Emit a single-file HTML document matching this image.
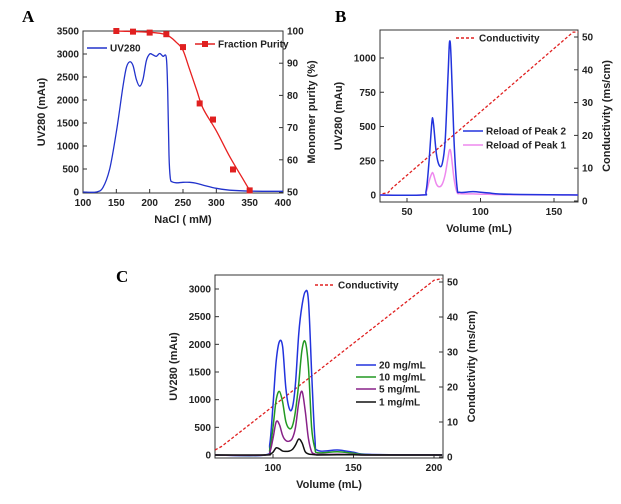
<!DOCTYPE html>
<html><head><meta charset="utf-8"><style>
html,body{margin:0;padding:0;background:#fff;width:621px;height:504px;overflow:hidden}
svg{display:block;font-family:"Liberation Sans",Arial,sans-serif}
.t{font-size:10px;font-weight:bold;fill:#222}
.at{font-size:11px;font-weight:bold;fill:#222}
.pl{font-family:"Liberation Serif",serif;font-size:17px;font-weight:bold}
</style></head><body>
<svg id="s" width="621" height="504" viewBox="0 0 621 504">
<defs>
<clipPath id="clipa"><rect x="83" y="28" width="200" height="165"/></clipPath>
<clipPath id="clipb"><rect x="380" y="30" width="198" height="172"/></clipPath>
<clipPath id="clipc"><rect x="215" y="275" width="228" height="183"/></clipPath>
</defs>
<text class="pl" x="22" y="22">A</text>
<text class="pl" x="335" y="22">B</text>
<text class="pl" x="116" y="282">C</text>
</svg>
<script>
// Panel A data
const aUvX=[100,120,130,140,150,160,165,170,175,180,185,190,195,200,205,210,215,220,225,227,229,231,234,240,250,260,270,280,300,320,350,400];
const aUvY=[0,0,100,500,1300,2300,2700,2830,2750,2450,2300,2450,2850,3000,2980,2950,3010,2950,2920,2200,800,300,220,200,210,210,190,150,80,40,20,15];
const aPurX=[150,175,200,225,250,275,295,325,350];
const aPurY=[100,99.8,99.5,99,95,77.5,72.5,57,50.5];
const aFitX=[150,200,225,240,250,260,270,280,300,320,340,350];
const aFitY=[100,99.6,98.8,96.5,94,88,82,76,69,61,54,50.5];
const aXTicks=[100,150,200,250,300,350,400];
const aYTicks=[0,500,1000,1500,2000,2500,3000,3500];
const aY2Ticks=[50,60,70,80,90,100];
// Panel B data
const bX=[30,60,63,65,67,68,70,72,74,76,78,79,80,82,84,86,95,105,120,168];
const bPeak2=[0,0,30,250,540,520,300,215,230,400,900,1120,1000,400,60,20,25,15,5,0];
const bPeak1=[0,0,20,100,160,150,80,60,80,150,280,330,300,120,20,10,8,5,2,0];
const bCondX=[30,37,40,163,168];
const bCondY=[2,2.5,4,51.5,51.5];
const bXTicks=[50,100,150];
const bYTicks=[0,250,500,750,1000];
const bY2Ticks=[0,10,20,30,40,50];
// Panel C data
const cX=[64,95,98,100,102,104,106,108,110,112,114,116,118,120,122,124,126,128,140,150,160,205];
const c20=[0,0,200,900,1700,2050,1950,1200,850,850,1300,2200,2700,2950,2800,1500,300,80,90,50,10,0];
const c10=[0,0,100,500,1000,1150,950,600,480,520,800,1300,1900,2050,1600,500,120,40,60,30,5,0];
const c5=[0,0,50,300,600,550,350,260,250,300,500,950,1150,800,300,60,20,10,15,10,0,0];
const c1=[0,0,10,50,130,110,70,65,70,100,180,290,220,60,20,10,5,0,5,3,0,0];
const cCondX=[64,68,200,205];
const cCondY=[2,3,50.5,51];
const cXTicks=[100,150,200];
const cYTicks=[0,500,1000,1500,2000,2500,3000];
const cY2Ticks=[0,10,20,30,40,50];

const NS='http://www.w3.org/2000/svg', S=document.getElementById('s');
function mk(tag,at,txt){const e=document.createElementNS(NS,tag);for(const k in at)e.setAttribute(k,at[k]);if(txt!==undefined)e.textContent=txt;S.appendChild(e);return e;}
function lin(d0,d1,p0,p1){return v=>p0+(v-d0)*(p1-p0)/(d1-d0);}
function pathD(xs,ys,fx,fy,sm){const P=xs.map((x,i)=>[fx(x),fy(ys[i])]);let d='M'+P[0][0].toFixed(1)+','+P[0][1].toFixed(1);
  for(let i=0;i<P.length-1;i++){const p0=P[Math.max(0,i-1)],p1=P[i],p2=P[i+1],p3=P[Math.min(P.length-1,i+2)];
    if(!sm){d+=' L'+p2[0].toFixed(1)+','+p2[1].toFixed(1);continue;}
    const c1=[p1[0]+(p2[0]-p0[0])/6,p1[1]+(p2[1]-p0[1])/6],c2=[p2[0]-(p3[0]-p1[0])/6,p2[1]-(p3[1]-p1[1])/6];
    d+=' C'+c1.map(v=>v.toFixed(1))+' '+c2.map(v=>v.toFixed(1))+' '+p2[0].toFixed(1)+','+p2[1].toFixed(1);}
  return d;}
function frame(L,T,R,B,fx,fy,fy2,xt,yt,y2t,xl,yl,y2l,p){
  let e=mk('rect',{x:L,y:T,width:R-L,height:B-T,fill:'none',stroke:'#333','stroke-width':1});
  
  xt.forEach(v=>{const x=fx(v);
    e=mk('line',{x1:x,y1:B,x2:x,y2:B-4,stroke:'#333'});
    e=mk('text',{x:x,y:B+13,'text-anchor':'middle',class:'t'},v);});
  yt.forEach(v=>{const y=fy(v);
    e=mk('line',{x1:L,y1:y,x2:L+4,y2:y,stroke:'#333'});
    e=mk('text',{x:L-4,y:y+3.5,'text-anchor':'end',class:'t'},v);});
  y2t.forEach(v=>{const y=fy2(v);
    e=mk('line',{x1:R,y1:y,x2:R-4,y2:y,stroke:'#333'});
    e=mk('text',{x:R+4,y:y+3.5,class:'t'},v);});
  e=mk('text',{x:(L+R)/2,y:B+30,'text-anchor':'middle',class:'at'},xl);
  const cy=(T+B)/2;
  e=mk('text',{x:0,y:0,'text-anchor':'middle',class:'at',transform:`translate(${L-38},${cy}) rotate(-90)`},yl);
  e=mk('text',{x:0,y:0,'text-anchor':'middle',class:'at',transform:`translate(${R+32},${cy}) rotate(-90)`},y2l);
}
function line(p,fx,fy,xs,ys,col,w,name,dash,sm){const e=mk('path',{d:pathD(xs,ys,fx,fy,sm!==false),fill:'none',stroke:col,'stroke-width':w,'stroke-linejoin':'round','stroke-dasharray':dash||'none','clip-path':'url(#clip'+p+')'});
  return e;}
function leg(x,y,col,txt,name,dash,sq){let e=mk('line',{x1:x,y1:y,x2:x+20,y2:y,stroke:col,'stroke-width':1.5,'stroke-dasharray':dash||'none'});
  
  if(sq){e=mk('rect',{x:x+7,y:y-3,width:6,height:6,fill:col});}
  e=mk('text',{x:x+23,y:y+3.5,class:'t','font-size':'10'},txt);}

// Panel A
{const fx=lin(100,400,83,283),fy=lin(0,3500,192,31),fy2=lin(50,100,192,31);
 frame(83,31,283,193,fx,fy,fy2,aXTicks,aYTicks,aY2Ticks,'NaCl ( mM)','UV280 (mAu)','Monomer purity (%)','panel-a');
 line('a',fx,fy,aUvX,aUvY,'#2233cc',1.3,'uv280-line');
 line('a',fx,fy2,aFitX,aFitY,'#e82020',1.3,'purity-fit-line');
 aPurX.forEach((x,i)=>{const e=mk('rect',{x:fx(x)-3,y:fy2(aPurY[i])-3,width:6,height:6,fill:'#e02020'});
  });
 leg(87,48,'#2233cc','UV280','legend-uv280');
 leg(195,44,'#e02020','Fraction Purity','legend-fraction-purity',null,true);}
// Panel B
{const fx=lin(50,150,407,554),fy=lin(0,1000,195,58),fy2=lin(0,50,201,37);
 frame(380,30,578,202,fx,fy,fy2,bXTicks,bYTicks,bY2Ticks,'Volume (mL)','UV280 (mAu)','Conductivity (ms/cm)','panel-b');
 line('b',fx,fy2,bCondX,bCondY,'#e02020',1.3,'conductivity-line','3,2',false);
 line('b',fx,fy,bX,bPeak1,'#ee88ee',1.5,'reload-peak1-line');
 line('b',fx,fy,bX,bPeak2,'#2233dd',1.5,'reload-peak2-line');
 leg(456,38,'#e02020','Conductivity','legend-conductivity','3,2');
 leg(463,131,'#2233dd','Reload of Peak 2','legend-peak2');
 leg(463,145,'#ee88ee','Reload of Peak 1','legend-peak1');}
// Panel C
{const fx=lin(100,200,273,434),fy=lin(0,3000,455,289),fy2=lin(0,50,457,282);
 frame(215,275,443,458,fx,fy,fy2,cXTicks,cYTicks,cY2Ticks,'Volume (mL)','UV280 (mAu)','Conductivity (ms/cm)','panel-c');
 line('c',fx,fy2,cCondX,cCondY,'#e02020',1.3,'conductivity-line','3,2',false);
 line('c',fx,fy,cX,c20,'#2233dd',1.5,'series-20mg-line');
 line('c',fx,fy,cX,c10,'#229922',1.5,'series-10mg-line');
 line('c',fx,fy,cX,c5,'#882288',1.5,'series-5mg-line');
 line('c',fx,fy,cX,c1,'#111',1.5,'series-1mg-line');
 leg(315,285,'#e02020','Conductivity','legend-conductivity-c','3,2');
 leg(356,365,'#2233dd','20 mg/mL','legend-20mg');
 leg(356,377,'#229922','10 mg/mL','legend-10mg');
 leg(356,389,'#882288','5 mg/mL','legend-5mg');
 leg(356,402,'#111','1 mg/mL','legend-1mg');}
</script>
</body></html>
